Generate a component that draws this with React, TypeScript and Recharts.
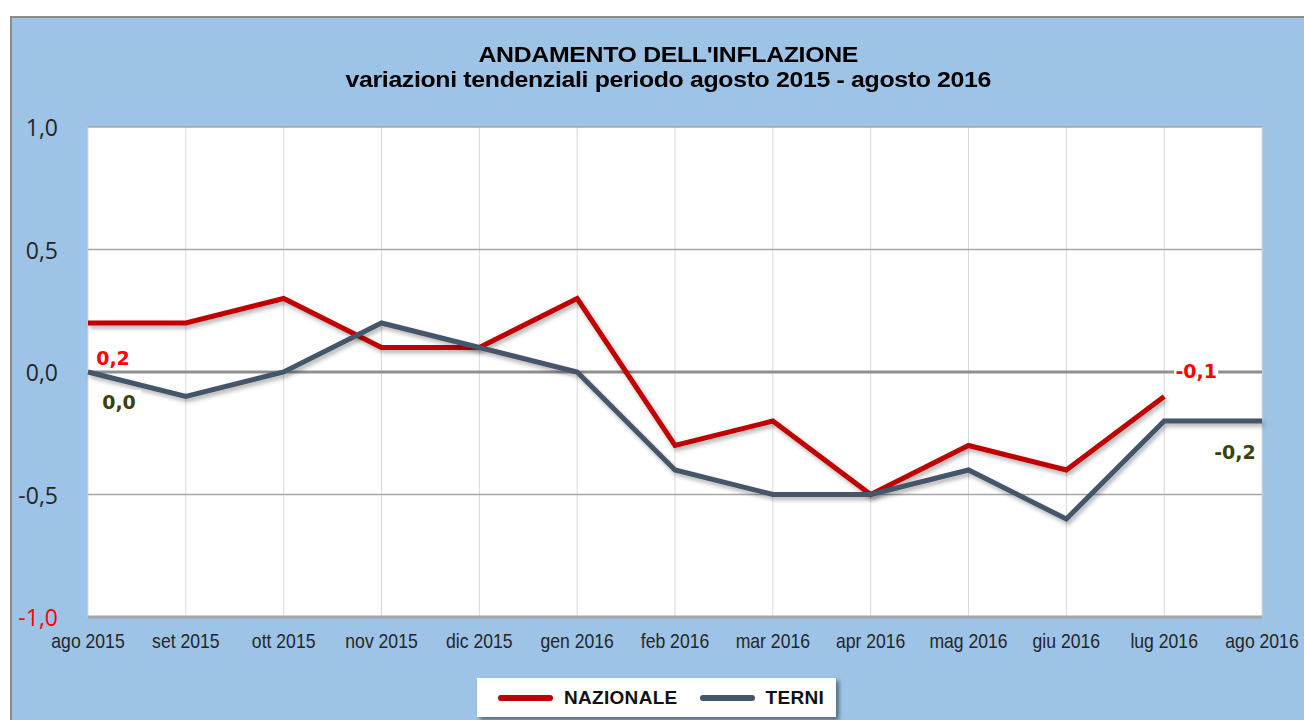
import {
  LineChart,
  Line,
  XAxis,
  YAxis,
  CartesianGrid,
  ReferenceLine,
  Legend,
} from "recharts";

// mesi sull'asse orizzontale
const mesi = [
  "ago 2015",
  "set 2015",
  "ott 2015",
  "nov 2015",
  "dic 2015",
  "gen 2016",
  "feb 2016",
  "mar 2016",
  "apr 2016",
  "mag 2016",
  "giu 2016",
  "lug 2016",
  "ago 2016",
];

// variazioni tendenziali (%)
const nazionale = [0.2, 0.2, 0.3, 0.1, 0.1, 0.3, -0.3, -0.2, -0.5, -0.3, -0.4, -0.1, null];
const terni = [0.0, -0.1, 0.0, 0.2, 0.1, 0.0, -0.4, -0.5, -0.5, -0.4, -0.6, -0.2, -0.2];

const yTicks = [-1, -0.5, 0, 0.5, 1];

const data = mesi.map((mese, i) => ({
  mese,
  nazionale: nazionale[i],
  terni: terni[i],
}));

const ROSSO = "#C00000";
const GRIGIO = "#44546A";

const fmt = (v) => v.toFixed(1).replace(".", ",");

// solo alcune etichette, con il loro spostamento rispetto al punto
const etichetteNaz = { 0: [25, 35], 11: [32, -26] };
const etichetteTerni = { 0: [31, 30], 12: [-27, 31] };

const makeLabel = (pos, color) => (props) => {
  const { x, y, value, index } = props;
  const off = pos[index];
  if (!off || value == null) return null;
  const cx = x + off[0];
  const cy = y + off[1];
  return (
    <g key={`lbl-${index}`}>
      <rect x={cx - 22} y={cy - 12} width={44} height={24} fill="#fff" />
      <text
        x={cx}
        y={cy}
        textAnchor="middle"
        dominantBaseline="central"
        fill={color}
        fontFamily="DejaVu Sans, Arial, sans-serif"
        fontWeight="bold"
        fontSize={19}
      >
        {fmt(value)}
      </text>
    </g>
  );
};

const YTick = ({ x, y, payload }) => (
  <text
    x={x - 22}
    y={y}
    textAnchor="end"
    dominantBaseline="central"
    fill={payload.value === -1 ? "#FF0000" : "#262626"}
    fontFamily="Open Sans, Lato, sans-serif"
    fontSize={23}
  >
    {fmt(payload.value)}
  </text>
);

const XTick = ({ x, y, payload }) => (
  <text
    transform={`translate(${x},${y + 23}) scale(0.88,1)`}
    textAnchor="middle"
    fill="#262626"
    fontFamily="Liberation Sans, Arial, sans-serif"
    fontSize={20}
  >
    {payload.value}
  </text>
);

const LegendBox = ({ payload }) => (
  <div
    style={{
      width: 359,
      height: 39,
      background: "#fff",
      boxShadow: "3px 3px 4px rgba(0,0,0,0.45)",
      display: "flex",
      alignItems: "center",
      fontFamily: "Liberation Sans, Arial, sans-serif",
      fontWeight: "bold",
      fontSize: 19,
      letterSpacing: 0.3,
      color: "#111",
    }}
  >
    {(payload || []).map((p, i) => (
      <div
        key={p.value}
        style={{ display: "flex", alignItems: "center", marginLeft: i === 0 ? 21 : 22 }}
      >
        <div
          style={{
            width: 55,
            height: 6,
            borderRadius: 3,
            background: p.color,
            marginRight: 11,
          }}
        />
        {p.value}
      </div>
    ))}
  </div>
);

export default function App() {
  return (
    <div
      style={{
        position: "absolute",
        left: 0,
        top: 0,
        width: 1304,
        height: 720,
        overflow: "hidden",
        background: "#fff",
      }}
    >
      <div
        style={{
          position: "absolute",
          left: 10,
          top: 16,
          width: 1310,
          height: 720,
          background: "#9DC3E6",
          borderTop: "2px solid #8C8C8C",
          borderLeft: "2px solid #8C8C8C",
        }}
      />
      <div
        style={{
          position: "absolute",
          left: 0,
          top: 42,
          width: 1336,
          textAlign: "center",
          fontFamily: "Liberation Sans, Arial, sans-serif",
          fontWeight: "bold",
          fontSize: 22,
          lineHeight: "25px",
          color: "#000",
          letterSpacing: -0.3,
          transform: "scale(1.13,1)",
          transformOrigin: "666px 0",
        }}
      >
        <div>ANDAMENTO DELL'INFLAZIONE</div>
        <div>variazioni tendenziali periodo agosto 2015 - agosto 2016</div>
      </div>
      <div style={{ position: "absolute", left: 0, top: 0 }}>
        <LineChart
          width={1304}
          height={720}
          data={data}
          margin={{ top: 127, right: 42, left: 28, bottom: 73 }}
        >
          <defs>
            <filter id="ombra" x="-5%" y="-20%" width="110%" height="140%">
              <feDropShadow dx="2" dy="3" stdDeviation="2" floodColor="#000" floodOpacity="0.3" />
            </filter>
          </defs>
          <CartesianGrid stroke="#D9D9D9" fill="#fff" horizontal={false} />
          <CartesianGrid stroke="#A6A6A6" strokeWidth={1.5} vertical={false} />
          <XAxis
            dataKey="mese"
            height={30}
            axisLine={{ stroke: "#A6A6A6", strokeWidth: 3 }}
            tickLine={false}
            tick={<XTick />}
            interval={0}
          />
          <YAxis
            width={60}
            domain={[-1, 1]}
            ticks={yTicks}
            axisLine={false}
            tickLine={false}
            tick={<YTick />}
          />
          <ReferenceLine y={0} stroke="#8F8F8F" strokeWidth={3} />
          <Line
            name="NAZIONALE"
            dataKey="nazionale"
            stroke={ROSSO}
            strokeWidth={5}
            dot={false}
            filter="url(#ombra)"
            isAnimationActive={false}
            label={makeLabel(etichetteNaz, "#FF0000")}
          />
          <Line
            name="TERNI"
            dataKey="terni"
            stroke={GRIGIO}
            strokeWidth={5}
            dot={false}
            filter="url(#ombra)"
            isAnimationActive={false}
            label={makeLabel(etichetteTerni, "#3F3F0A")}
          />
          <Legend
            layout="horizontal"
            verticalAlign="middle"
            align="center"
            content={<LegendBox />}
            wrapperStyle={{ position: "absolute", left: 477, top: 678, width: 359 }}
          />
        </LineChart>
      </div>
    </div>
  );
}
